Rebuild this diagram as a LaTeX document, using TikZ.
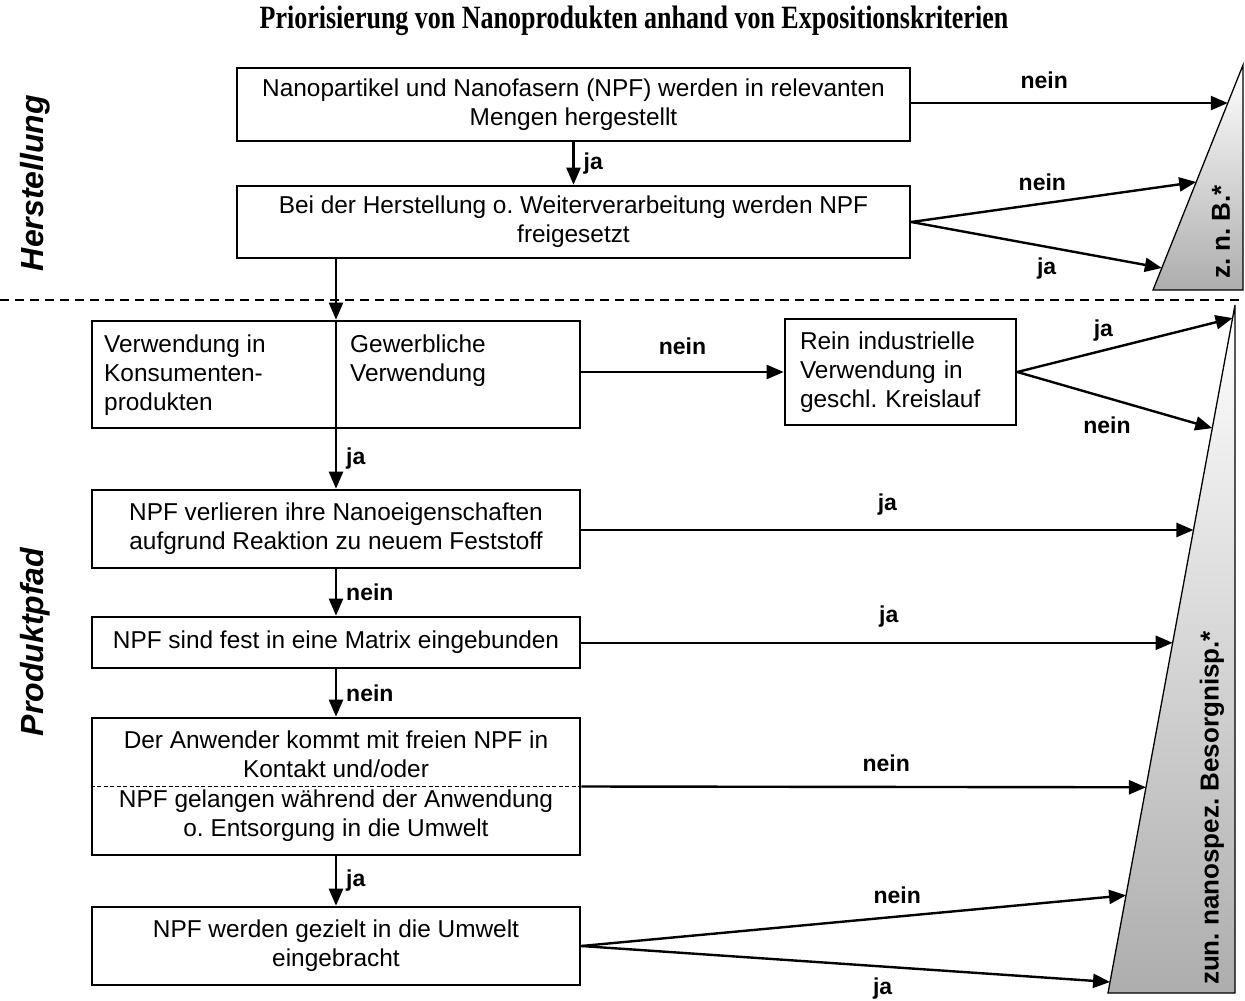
\documentclass[tikz,border=0pt]{standalone}
\usepackage{fontspec}
\setmainfont{Liberation Sans}
\newfontfamily\headfont{Liberation Serif}
\usetikzlibrary{arrows.meta,calc}
\frenchspacing
\newcommand\bxfont{\fontsize{24.4}{29}\selectfont}
\newcommand\lbfont{\fontsize{23}{27}\selectfont\bfseries}
\newcommand\sidefont{\fontsize{32}{36}\selectfont\bfseries\itshape}
\newcommand\trifont{\fontsize{26}{30}\selectfont\bfseries}

\begin{document}
\begin{tikzpicture}[x=1pt,y=-1pt,
  box/.style={draw, line width=2.6pt, inner sep=0pt, align=center, font=\bxfont},
  txt/.style={inner sep=0pt, align=left, font=\bxfont, anchor=north west},
  flow/.style={line width=2.4pt, -{Triangle[length=17pt,width=14pt]}},
  plain/.style={line width=2.4pt},
  lbl/.style={font=\lbfont, inner sep=0pt},
  side/.style={font=\sidefont, rotate=90, inner sep=0pt},
  wedge/.style={draw, line width=1.3pt, top color=white, bottom color=black!32},
  divider/.style={dashed, line width=1.8pt, dash pattern=on 9pt off 6pt},
  split/.style={line width=0.9pt, dash pattern=on 4pt off 2.5pt}]

\useasboundingbox (0,0) rectangle (1245,1001);

% heading
\node[font=\headfont\fontsize{26}{30}\selectfont\bfseries, inner sep=0pt] (title) at (634,21)
  {\scalebox{1}[1.25]{Priorisierung von Nanoprodukten anhand von Expositionskriterien}};

% boundary between manufacturing and product path
\coordinate (dl) at (0,300);
\coordinate (dr) at (1245,300);
\draw[divider] (dl) -- (dr);

% section labels
\node[side] (herst) at (35,183) {Herstellung};
\node[side] (prod) at (35,642) {Produktpfad};

% target wedges
\coordinate (A1) at (1153,290);
\coordinate (A2) at (1243,65);
\coordinate (A3) at (1243,290);
\draw[wedge] (A1) -- (A2) -- (A3) -- cycle;
\node[font=\trifont, rotate=90, inner sep=0pt] (znb) at (1221,232) {z. n. B.*};

\coordinate (B1) at (1108,993);
\coordinate (B2) at (1235,305);
\coordinate (B3) at (1235,993);
\draw[wedge] (B1) -- (B2) -- (B3) -- cycle;
\node[font=\trifont, rotate=90, inner sep=0pt] (zun) at (1212,808) {zun. nanospez. Besorgnisp.*};

% arrow targets on the wedge edges
\coordinate (t1) at ($(A1)!0.831!(A2)$);
\coordinate (t2) at ($(A1)!0.480!(A2)$);
\coordinate (t3) at ($(A1)!0.098!(A2)$);
\coordinate (u1) at ($(B1)!0.981!(B2)$);
\coordinate (u2) at ($(B1)!0.821!(B2)$);
\coordinate (u3) at ($(B1)!0.673!(B2)$);
\coordinate (u4) at ($(B1)!0.509!(B2)$);
\coordinate (u5) at ($(B1)!0.299!(B2)$);
\coordinate (u6) at ($(B1)!0.142!(B2)$);
\coordinate (u7) at ($(B1)!0.016!(B2)$);

% boxes
\node[box, minimum width=673, minimum height=73] (b1) at (573.5,104.5)
  {Nanopartikel und Nanofasern (NPF) werden in relevanten\\Mengen hergestellt};
\node[box, minimum width=673, minimum height=72] (b2) at (573.5,222)
  {Bei der Herstellung o. Weiterverarbeitung werden NPF\\freigesetzt};
\node[box, minimum width=488, minimum height=107] (b3) at (336,374.5) {};
\node[txt] (b3l) at (104,335) {Verwendung in\\Konsumenten-\\produkten};
\node[txt] (b3r) at (350,335) {Gewerbliche\\Verwendung};
\node[box, minimum width=231, minimum height=106, text width=201, align=left] (rein) at (900.5,372)
  {Rein industrielle\\Verwendung in\\geschl. Kreislauf};
\node[box, minimum width=488, minimum height=78] (b4) at (336,529)
  {NPF verlieren ihre Nanoeigenschaften\\aufgrund Reaktion zu neuem Feststoff};
\node[box, minimum width=488, minimum height=51] (b5) at (336,642.5)
  {NPF sind fest in eine Matrix eingebunden};
\node[box, minimum width=488, minimum height=137] (b6) at (336,786.5)
  {Der Anwender kommt mit freien NPF in\\Kontakt und/oder\\[1pt]NPF gelangen w\"ahrend der Anwendung\\o. Entsorgung in die Umwelt};
\draw[split] (b6.west) -- (b6.east);
\node[box, minimum width=488, minimum height=78] (b7) at (336,946)
  {NPF werden gezielt in die Umwelt\\eingebracht};

% manufacturing connectors
\draw[flow] (b1.east |- t1) -- node[lbl, pos=0.42, above=13pt] {nein} (t1);
\draw[flow] (b1.south) -- node[lbl, right=9pt] {ja} (b2.north);
\draw[flow] (b2.east) -- node[lbl, pos=0.46, above=12pt] {nein} (t2);
\draw[flow] (b2.east) -- node[lbl, pos=0.54, below=10pt] {ja} (t3);

% product path connectors
\draw[flow] (b3.north |- b2.south) -- (b3.north);
\draw[plain] (b3.north) -- (b3.south);
\draw[flow] (b3.south) -- node[lbl, right=9pt, pos=0.5] {ja} (b4.north);
\draw[flow] (rein.west -| b3.east) -- node[lbl, above=16pt] {nein} (rein.west);
\draw[flow] (rein.east) -- node[lbl, pos=0.4, above=8pt] {ja} (u1);
\draw[flow] (rein.east) -- node[lbl, pos=0.46, below=18pt] {nein} (u2);
\draw[flow] (b4.east |- u3) -- node[lbl, pos=0.5, above=14pt] {ja} (u3);
\draw[flow] (b4.south) -- node[lbl, right=9pt] {nein} (b5.north);
\draw[flow] (b5.east |- u4) -- node[lbl, pos=0.52, above=14pt] {ja} (u4);
\draw[flow] (b5.south) -- node[lbl, right=9pt] {nein} (b6.north);
\draw[flow] (b6.east) -- node[lbl, pos=0.54, above=14pt] {nein} (u5);
\draw[flow] (b6.south) -- node[lbl, right=9pt] {ja} (b7.north);
\draw[flow] (b7.east) -- node[lbl, pos=0.58, above=12pt] {nein} (u6);
\draw[flow] (b7.east) -- node[lbl, pos=0.57, below=10pt] {ja} (u7);
\end{tikzpicture}
\end{document}
